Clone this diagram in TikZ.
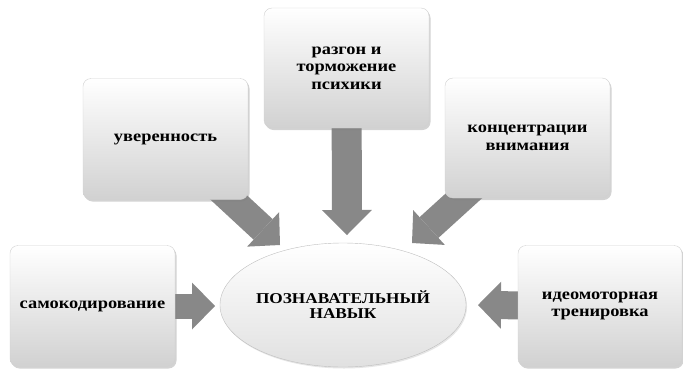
\documentclass[tikz,border=0pt]{standalone}
\usepackage{fontspec}
\setmainfont{Liberation Serif}[FakeStretch=1.15,
  BoldFont={Liberation Serif Bold}]
\usetikzlibrary{shapes.geometric,arrows.meta,shadows,backgrounds}
\definecolor{arrowgray}{RGB}{136,136,136}

\begin{document}
\begin{tikzpicture}
  [x=1pt, y=-1pt,
    align=center,
    factor/.style={%
      rectangle, rounded corners=8pt, draw=black!18, thin,
      top color=white, bottom color=black!18,
      minimum width=165pt, minimum height=121pt, inner sep=2pt,
      font=\fontsize{16}{17.5}\selectfont\bfseries,
      drop shadow={shadow xshift=1.5pt, shadow yshift=-2pt, opacity=0.35}
    },
    skill/.style={%
      ellipse, draw=black!25, thin,
      top color=white, bottom color=black!12,
      minimum width=242pt, minimum height=124pt, inner sep=0pt,
      font=\fontsize{15}{15}\selectfont\bfseries,
      drop shadow={shadow xshift=1pt, shadow yshift=-1.5pt, opacity=0.2}
    },
    push/.style={%
      draw=arrowgray, line width=28pt,
      -{Triangle[length=23pt, width=47pt, line width=0pt]}
    },
  ]

  \useasboundingbox (0,0) rectangle (683,370);

  \node[skill] (pk) at (343,305) {ПОЗНАВАТЕЛЬНЫЙ\\НАВЫК};

  \node[factor] (samo) at (92.5,306) {самокодирование};
  \node[factor] (uver) at (165.5,139) {уверенность};
  \node[factor, minimum height=120pt] (razgon) at (346.5,68) {разгон и\\торможение\\психики};
  \node[factor, minimum height=120pt] (konc) at (527.5,138) {концентрации\\внимания};
  \node[factor, minimum width=164pt] (ideo) at (600,306) {идеомоторная\\тренировка};

  \coordinate (tipL) at (215,306);
  \coordinate (tipR) at (478,305);
  \coordinate (tipT) at (347,235);
  \coordinate (tipUL) at (280,245);
  \coordinate (tipUR) at (412,243);

  \begin{scope}[on background layer]
    \draw[push, line width=25pt] (samo.center) -- (tipL);
    \draw[push] (ideo.center) -- (tipR);
    \draw[push, line width=30pt,
      -{Triangle[length=25pt, width=50pt, line width=0pt]}] (razgon.center) -- (tipT);
    \draw[push] (uver.center) -- (tipUL);
    \draw[push] (konc.center) -- (tipUR);
  \end{scope}

\end{tikzpicture}
\end{document}
